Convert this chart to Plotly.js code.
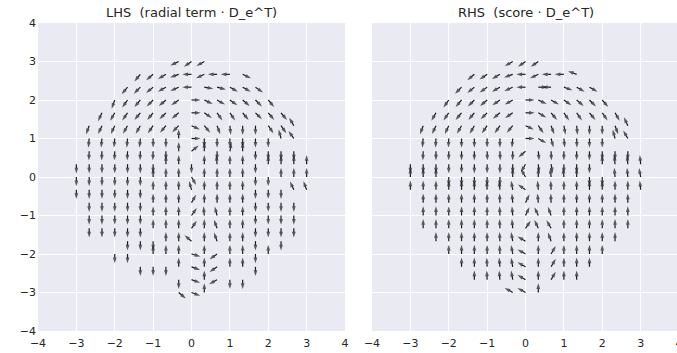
<!DOCTYPE html>
<html>
<head>
<meta charset="utf-8">
<script src="https://cdn.plot.ly/plotly-3.0.1.min.js"></script>
<style>
html,body{margin:0;padding:0;overflow:hidden;background:#fff;}
#chart{width:690px;height:353px;}
</style>
</head>
<body>
<div id="chart"></div>
<script>
// ---- data ----
// grid rows (y values), top to bottom; spacing between neighbouring points is 1/3
const gridStep = 1 / 3;
const rowY = [3, 2.667, 2.333, 2, 1.667, 1.333, 1, 0.667, 0.333, 0,
              -0.333, -0.667, -1, -1.333, -1.667, -2, -2.333, -2.667, -3];
// number of grid columns on each side of x = 0 in each row
const rowHalf = [1, 4, 5, 6, 7, 8, 8, 8, 9, 9, 9, 8, 8, 8, 7, 6, 5, 4, 1];

// arrow directions (degrees, counter-clockwise from +x), left to right in each row; null = no visible arrow
const lhsAngle = [
  [205, 215, 210],
  [230, 220, 210, 200, 180, 205, 180, 180, 335],
  [230, 225, 220, 210, 205, 180, 350, 345, 330, 330, 325],
  [250, 235, 230, 225, 220, 215, 0, 335, 330, 325, 320, 315, 310],
  [245, 240, 235, 230, 230, 225, 220, 0, 325, 305, 305, 310, 315, 310, 310],
  [250, 245, 245, 240, 240, 235, 230, 225, 335, 310, 290, 275, 270, 270, 305, 305, 120],
  [265, 265, 265, 265, 265, 270, 270, 90, 0, 270, 270, 270, 270, 270, 270, 105, 125],
  [268, 268, 268, 268, 268, 268, 270, 90, 40, 90, 270, 80, 90, 270, 270, 270, 270],
  [270, 270, 270, 270, 270, 270, 270, 90, 90, 270, 90, 95, 90, 90, 270, 90, 90, 90, 90],
  [270, 270, 270, 270, 270, 270, 90, 90, 90, 300, 90, 90, 90, 90, 270, 270, 90, 90, 90],
  [270, 270, 270, 270, 270, 270, 90, 90, 90, 105, 90, 90, 90, 90, 270, 270, 270, 115, 110],
  [270, 270, 270, 270, 270, 90, 90, 90, 60, 90, 90, 90, 90, 270, 270, 270, 270],
  [270, 270, 270, 270, 270, 90, 90, 90, 55, 95, 105, 90, 90, 270, 270, 270, 270],
  [270, 270, 270, 270, 270, 90, 90, 90, 55, 90, 110, 90, 90, 270, 270, 270, 270],
  [null, null, 270, 270, 270, 90, 90, 140, 90, 110, 90, 90, 270, null, 270],
  [270, 270, null, 90, 90, 90, 345, 90, 215, 90, 90, 270, 90],
  [null, 270, 270, 270, 90, 340, 90, 215, 90, 90, 270],
  [null, null, null, 270, 340, 90, 210, 270, 270],
  [320, 340, 90]
];

const rhsAngle = [
  [210, 215, 215],
  [220, 215, 210, 200, 180, 205, 180, 180, 160],
  [225, 220, 215, 210, 205, 180, 0, 180, 340, 330, 330],
  [235, 230, 225, 220, 215, 210, 0, 335, 330, 325, 320, 315, 310],
  [240, 235, 230, 230, 225, 220, 215, 0, 330, 310, 305, 305, 310, 305, 300],
  [250, 245, 245, 240, 240, 235, 235, 230, 335, 305, 290, 280, 275, 270, 270, 290, 115],
  [265, 268, 268, 270, 270, 270, 270, 265, 0, 330, 285, 275, 272, 270, 270, 105, 120],
  [268, 270, 270, 270, 270, 272, 272, 270, 220, 275, 272, 270, 270, 270, 270, 270, 270],
  [270, 270, 270, 270, 270, 270, 270, 270, 270, 240, 275, 280, 270, 270, 270, 90, 95, 95, 95],
  [90, 90, 90, 270, 270, 270, 270, 270, 90, 120, 90, 95, 95, 90, 270, 270, 95, 95, 100],
  [90, 90, 90, 90, 90, 90, 92, 95, 100, 145, 95, 92, 90, 90, 90, 90, 90, 90, 95],
  [90, 90, 90, 90, 90, 90, 92, 95, 65, 95, 92, 90, 90, 90, 90, 90, 90],
  [90, 90, 90, 90, 90, 90, 92, 95, 65, 115, 110, 90, 90, 90, 90, 90, 90],
  [90, 90, 90, 90, 90, 90, 92, 95, 55, 115, 120, 90, 90, 90, 90, 90, 90],
  [90, 90, 90, 90, 90, 92, 100, 150, 90, 110, 90, 90, 90, 90, 90],
  [90, 90, 90, 90, 92, 100, 150, 90, 60, 90, 90, 90, 90],
  [90, 90, 92, 95, 100, 150, 90, 60, 90, 90, 90],
  [90, 92, 95, 100, 150, 90, 60, 90, 90],
  [150, 150, 90]
];

const titles = ['LHS\u00a0 (radial term · D_e^T)', 'RHS\u00a0 (score · D_e^T)'];
const axisTicks = [-4, -3, -2, -1, 0, 1, 2, 3, 4];

// ---- drawing ----
const ARROW_LEN = 0.24;   // style: drawn arrow length in data units
const INK = '#1a1a1a';

function quiverTrace(angles, xa, ya) {
  const xs = [], ys = [], sz = [];
  rowY.forEach((y, r) => {
    const half = rowHalf[r];
    angles[r].forEach((a, i) => {
      if (a === null) return;
      const x = (i - half) * gridStep;
      const t = a * Math.PI / 180;
      xs.push(x, x + ARROW_LEN * Math.cos(t), null);
      ys.push(y, y + ARROW_LEN * Math.sin(t), null);
      sz.push(0, 6, 0);
    });
  });
  return {
    type: 'scatter', mode: 'lines+markers', x: xs, y: ys,
    xaxis: xa, yaxis: ya, connectgaps: false, hoverinfo: 'skip',
    line: {color: INK, width: 1.2},
    marker: {symbol: 'arrow', angleref: 'previous', size: sz, color: INK,
             line: {width: 0}},
    showlegend: false
  };
}

const axisStyle = {
  range: [-4, 4], tickmode: 'array', tickvals: axisTicks,
  showgrid: true, gridcolor: '#ffffff', gridwidth: 1,
  zeroline: false, showline: false, ticks: '',
  tickfont: {family: 'DejaVu Sans, sans-serif', size: 11, color: '#262626'},
  fixedrange: true
};

const L = 38, R = 11, W = 690, H = 353, T = 23, B = 22;
const pw = W - L - R;
const d1 = (345 - L) / pw, d2 = (372 - L) / pw;

const layout = {
  width: W, height: H,
  margin: {l: L, r: R, t: T, b: B, pad: 0},
  paper_bgcolor: '#ffffff', plot_bgcolor: '#EAEAF2',
  font: {family: 'DejaVu Sans, sans-serif', color: '#262626'},
  xaxis: Object.assign({}, axisStyle, {domain: [0, d1], anchor: 'y', ticklabelstandoff: 4}),
  yaxis: Object.assign({}, axisStyle, {domain: [0, 1], anchor: 'x', ticklabelstandoff: 1}),
  xaxis2: Object.assign({}, axisStyle, {domain: [d2, 1], anchor: 'y2', ticklabelstandoff: 4}),
  yaxis2: Object.assign({}, axisStyle, {domain: [0, 1], anchor: 'x2', showticklabels: false}),
  showlegend: false,
  annotations: [
    {text: titles[0], xref: 'paper', yref: 'paper', x: d1 / 2, y: 1, yanchor: 'bottom',
     xanchor: 'center', yshift: 1, showarrow: false,
     font: {family: 'DejaVu Sans, sans-serif', size: 13, color: '#262626'}},
    {text: titles[1], xref: 'paper', yref: 'paper', x: (d2 + 1) / 2, y: 1, yanchor: 'bottom',
     xanchor: 'center', yshift: 1, showarrow: false,
     font: {family: 'DejaVu Sans, sans-serif', size: 13, color: '#262626'}}
  ]
};

Plotly.newPlot('chart', [
  quiverTrace(lhsAngle, 'x', 'y'),
  quiverTrace(rhsAngle, 'x2', 'y2')
], layout, {staticPlot: true, displayModeBar: false});
</script>
</body>
</html>
